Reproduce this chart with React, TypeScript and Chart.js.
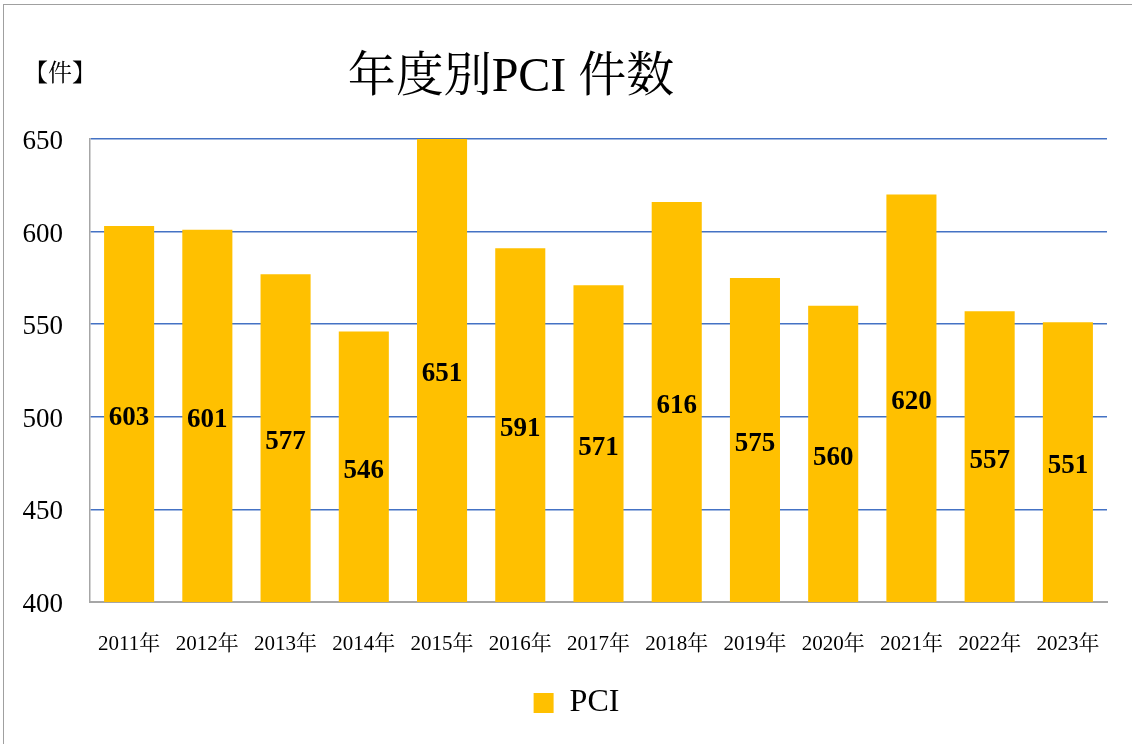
import React, { useEffect, useRef } from "react";
import { Chart, registerables } from "chart.js";

Chart.register(...registerables);

const categories = ["2011年", "2012年", "2013年", "2014年", "2015年", "2016年", "2017年", "2018年", "2019年", "2020年", "2021年", "2022年", "2023年"];
const pciValues = [603, 601, 577, 546, 651, 591, 571, 616, 575, 560, 620, 557, 551];
const seriesName = "PCI";
const titleText = "年度別PCI 件数";
const unitText = "【件】";
const yMin = 400;
const yMax = 650;
const yStep = 50;

const SERIF = "'Liberation Serif', 'DejaVu Serif', 'Noto Serif CJK JP', 'Noto Sans CJK JP', serif";

const overlayPlugin = {
  id: "overlay",
  afterLayout(chart: any) {
    const lg = chart.legend;
    if (lg) {
      lg.left += 23;
      lg.right += 23;
    }
  },
  afterDatasetsDraw(chart: any) {
    const { ctx, chartArea } = chart;
    const meta = chart.getDatasetMeta(0);
    ctx.save();
    ctx.fillStyle = "#000";
    ctx.font = `bold 27px ${SERIF}`;
    ctx.textAlign = "center";
    ctx.textBaseline = "middle";
    meta.data.forEach((el: any, i: number) => {
      const top = Math.max(el.y, chartArea.top);
      const bottom = Math.min(el.base, chartArea.bottom);
      ctx.fillText(String(pciValues[i]), el.x, (top + bottom) / 2 + 4);
    });
    ctx.restore();
  },
  afterDraw(chart: any) {
    const { ctx } = chart;
    ctx.save();
    ctx.fillStyle = "#000";
    ctx.textAlign = "center";
    ctx.textBaseline = "middle";
    ctx.font = `48px ${SERIF}`;
    ctx.fillText(titleText, 511, 78);
    ctx.font = `24px ${SERIF}`;
    ctx.fillText(unitText, 60, 75);
    ctx.restore();
  },
};

export default function App() {
  const ref = useRef<HTMLCanvasElement | null>(null);
  useEffect(() => {
    if (!ref.current) return;
    const chart = new Chart(ref.current, {
      type: "bar",
      data: {
        labels: categories,
        datasets: [
          {
            label: seriesName,
            data: pciValues,
            backgroundColor: "#FFC000",
            borderWidth: 0,
            barPercentage: 0.64,
            categoryPercentage: 1,
          },
        ],
      },
      options: {
        animation: false,
        responsive: false,
        maintainAspectRatio: false,
        layout: { padding: { left: 0, right: 25, top: 139, bottom: 15 } },
        plugins: {
          title: { display: false },
          tooltip: { enabled: false },
          legend: {
            position: "bottom",
            labels: {
              boxWidth: 20,
              boxHeight: 20,
              padding: 10,
              color: "#000",
              font: { family: SERIF, size: 32 },
            },
          },
        },
        scales: {
          x: {
            grid: { display: false, drawTicks: false },
            border: { display: true, color: "#a6a6a6", width: 2 },
            ticks: { color: "#000", padding: 30, font: { family: SERIF, size: 21 }, maxRotation: 0, autoSkip: false },
            afterFit: (s: any) => { s.height = 75; },
          },
          y: {
            min: yMin,
            max: yMax,
            grid: {
              drawTicks: false,
              color: (c: any) => (c.tick && c.tick.value === yMin ? "rgba(0,0,0,0)" : "#4472C4"),
              lineWidth: 1.5,
            },
            border: { display: true, color: "#a6a6a6", width: 1.5 },
            ticks: { stepSize: yStep, color: "#000", padding: 27, labelOffset: 3, font: { family: SERIF, size: 27 } },
            afterFit: (s: any) => { s.width = 90; },
          },
        },
      },
      plugins: [overlayPlugin],
    } as any);
    return () => chart.destroy();
  }, []);
  return (
    <div style={{ position: "fixed", left: 0, top: 0, width: 1132, height: 744, background: "#fff", overflow: "hidden" }}>
      <div style={{ position: "absolute", left: 3, top: 4, width: 1200, height: 800, border: "1.5px solid #a0a0a0", boxSizing: "border-box" }} />
      <canvas ref={ref} width={1132} height={744} style={{ position: "absolute", left: 0, top: 0, width: 1132, height: 744 }} />
    </div>
  );
}
